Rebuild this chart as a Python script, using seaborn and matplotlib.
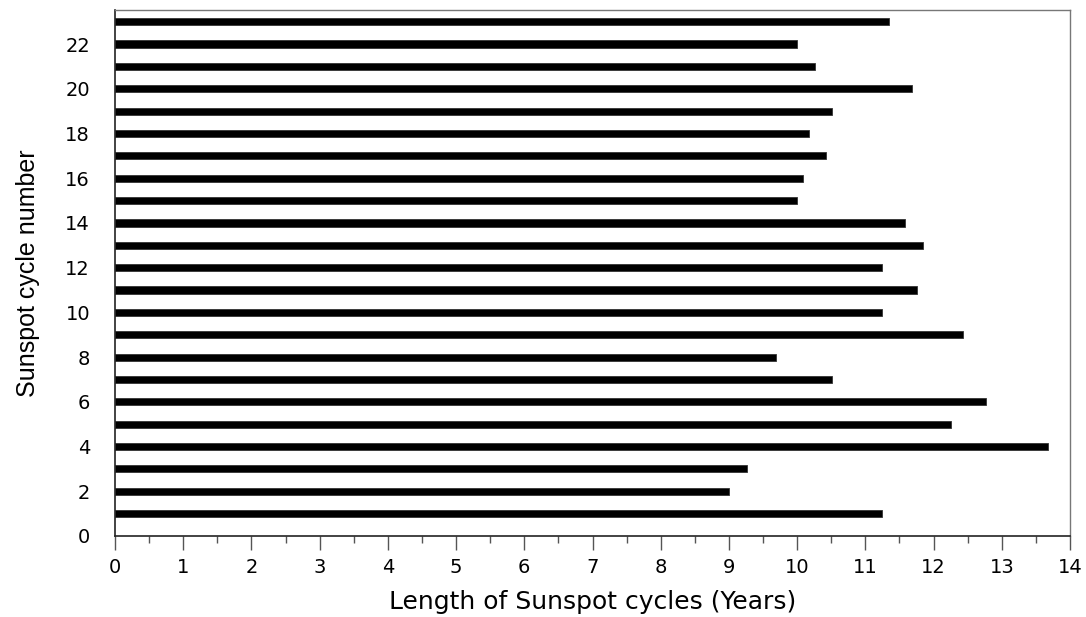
import matplotlib
matplotlib.use('Agg')
import matplotlib.pyplot as plt
import seaborn as sns
import pandas as pd
from matplotlib.ticker import MultipleLocator

cycles = list(range(1, 24))
lengths = [11.25, 9.0, 9.26, 13.68, 12.26, 12.77, 10.51, 9.69, 12.43, 11.25,
           11.75, 11.25, 11.84, 11.58, 10.0, 10.09, 10.42, 10.18, 10.51, 11.68,
           10.26, 10.0, 11.34]
x_ticks = list(range(0, 15))
y_ticks = list(range(0, 23, 2))

sns.set_theme(style='ticks')
plt.rcParams['font.family'] = ['DejaVu Sans']
plt.rcParams['text.color'] = 'black'
plt.rcParams['axes.labelcolor'] = 'black'
plt.rcParams['xtick.color'] = '#555555'
plt.rcParams['ytick.color'] = '#555555'
plt.rcParams['xtick.labelcolor'] = 'black'
plt.rcParams['ytick.labelcolor'] = 'black'

df = pd.DataFrame({'cycle': cycles, 'length': lengths})

fig = plt.figure(figsize=(10.86, 6.17), dpi=100)
ax = fig.add_axes([0.1059, 0.1313, 0.8794, 0.8517])
sns.barplot(data=df, x='length', y='cycle', orient='h', native_scale=True,
            width=0.32, color='black', edgecolor='#333333', linewidth=0.6,
            saturation=1, ax=ax)

ax.set_xlim(0, 14)
ax.set_ylim(0, 23.5)
ax.set_xticks(x_ticks)
ax.set_yticks(y_ticks)
ax.xaxis.set_minor_locator(MultipleLocator(0.5))
ax.tick_params(axis='x', which='major', direction='out', length=10, width=1,
               labelsize=14, pad=6)
ax.tick_params(axis='x', which='minor', direction='out', length=5, width=1)
ax.tick_params(axis='y', which='major', length=0, labelsize=14, pad=18)

for side in ['left', 'bottom']:
    ax.spines[side].set_color('#222222')
    ax.spines[side].set_linewidth(1.2)
for side in ['top', 'right']:
    ax.spines[side].set_visible(True)
    ax.spines[side].set_color('#777777')
    ax.spines[side].set_linewidth(1.0)

ax.set_xlabel('Length of Sunspot cycles (Years)', fontsize=18, labelpad=9)
ax.set_ylabel('Sunspot cycle number', fontsize=18, labelpad=18,
              family=['Liberation Sans', 'DejaVu Sans'])

fig.savefig('out.png', dpi=100)
